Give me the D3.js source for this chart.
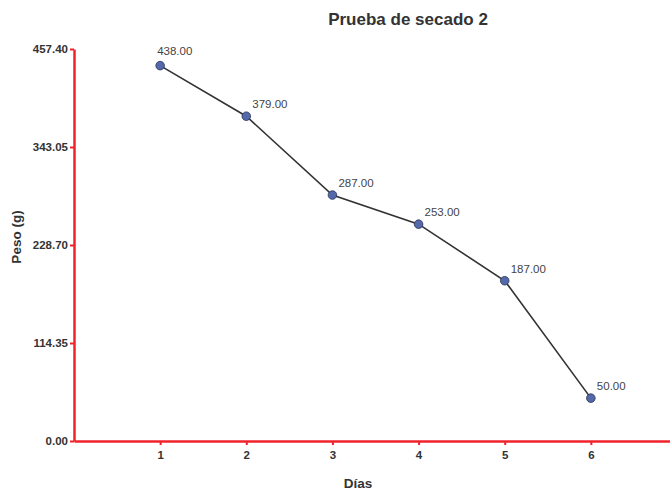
<!DOCTYPE html>
<html><head><meta charset="utf-8">
<script src="https://cdn.jsdelivr.net/npm/d3@7"></script>
<style>body{margin:0;background:#fff}svg{display:block}</style>
</head><body>
<script>
const dias = [1, 2, 3, 4, 5, 6];
const peso = [438, 379, 287, 253, 187, 50];
const yTicks = [0, 114.35, 228.70, 343.05, 457.40];
const xTicks = [1, 2, 3, 4, 5, 6];

const W = 670, H = 491;
const svg = d3.select("body").append("svg").attr("width", W).attr("height", H);
const x = d3.scaleLinear().domain([0, 7]).range([74, 677]);
const y = d3.scaleLinear().domain([0, 457.4]).range([441, 49]);
const red = "#f0232c";
const font = "'Liberation Sans', Arial, sans-serif";

svg.append("text").attr("x", 408).attr("y", 25).attr("text-anchor", "middle")
  .attr("font-family", font).attr("font-weight", "bold").attr("font-size", 17).attr("fill", "#333")
  .text("Prueba de secado 2");

const ya = svg.append("g").attr("transform", "translate(74,0)")
  .call(d3.axisLeft(y).tickValues(yTicks).tickFormat(d3.format(".2f")).tickSize(4).tickPadding(2).tickSizeOuter(0));
const xa = svg.append("g").attr("transform", "translate(0,441)")
  .call(d3.axisBottom(x).tickValues(xTicks).tickFormat(d3.format("d")).tickSize(4).tickPadding(6).tickSizeOuter(0));
[ya, xa].forEach(g => {
  g.select(".domain").attr("stroke", red).attr("stroke-width", 2.5);
  g.selectAll(".tick line").attr("stroke", red).attr("stroke-width", 2);
  g.selectAll(".tick text").attr("font-family", font).attr("font-weight", "bold")
    .attr("font-size", 11.5).attr("fill", "#333");
});

svg.append("text").attr("transform", "translate(21,237) rotate(-90)").attr("text-anchor", "middle")
  .attr("font-family", font).attr("font-weight", "bold").attr("font-size", 13.5).attr("fill", "#333")
  .text("Peso (g)");
svg.append("text").attr("x", 358).attr("y", 488).attr("text-anchor", "middle")
  .attr("font-family", font).attr("font-weight", "bold").attr("font-size", 13.5).attr("fill", "#333")
  .text("Días");

const data = dias.map((d, i) => ({d, v: peso[i], i}));
svg.append("path").datum(data)
  .attr("d", d3.line().x(p => x(p.d)).y(p => y(p.v)))
  .attr("fill", "none").attr("stroke", "#333").attr("stroke-width", 1.6);
svg.selectAll("circle.pt").data(data).join("circle")
  .attr("cx", p => x(p.d)).attr("cy", p => y(p.v)).attr("r", 4.3)
  .attr("fill", "#5469aa").attr("stroke", "#2a3255").attr("stroke-width", 0.8);
// labels near the top edge are nudged left/up to stay inside the plot
svg.selectAll("text.lbl").data(data).join("text")
  .attr("x", p => x(p.d) + (y(p.v) < 80 ? -3 : 6))
  .attr("y", p => y(p.v) - (y(p.v) < 80 ? 11 : 8))
  .attr("font-family", font).attr("font-size", 11.5).attr("fill", "#444")
  .text(p => p.v.toFixed(2));
</script>
</body></html>
